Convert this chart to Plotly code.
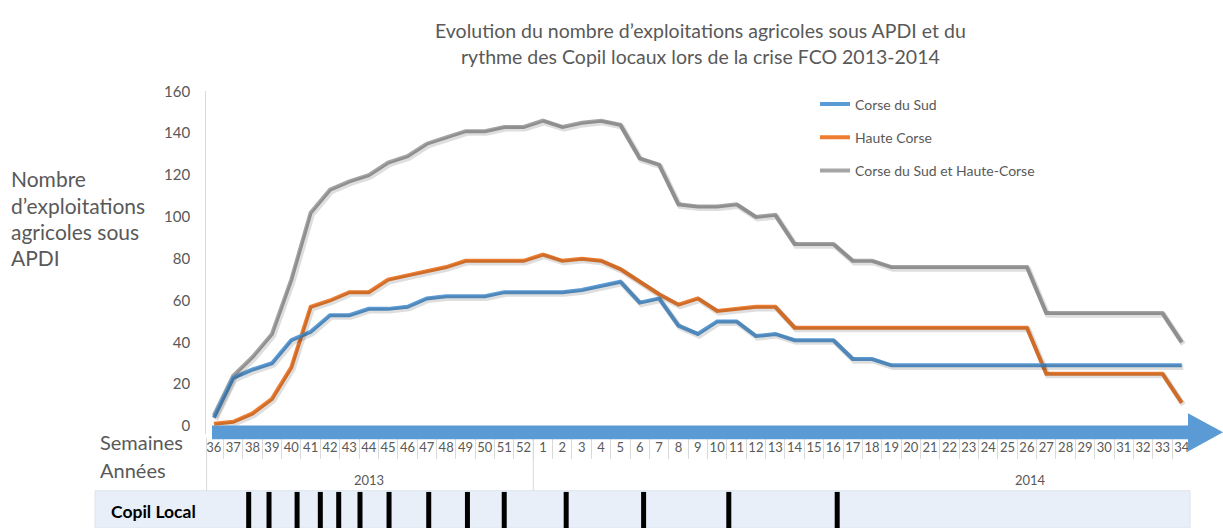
import plotly.graph_objects as go

# --- Données -------------------------------------------------------------
semaines = ["36", "37", "38", "39", "40", "41", "42", "43", "44", "45", "46", "47",
            "48", "49", "50", "51", "52",
            "1", "2", "3", "4", "5", "6", "7", "8", "9", "10", "11", "12", "13", "14",
            "15", "16", "17", "18", "19", "20", "21", "22", "23", "24", "25", "26",
            "27", "28", "29", "30", "31", "32", "33", "34"]

corse_du_sud = [4, 23, 27, 30, 41, 45, 53, 53, 56, 56, 57, 61, 62, 62, 62, 64, 64,
                64, 64, 65, 67, 69, 59, 61, 48, 44, 50, 50, 43, 44, 41, 41, 41, 32, 32,
                29, 29, 29, 29, 29, 29, 29, 29, 29, 29, 29, 29, 29, 29, 29, 29]

haute_corse = [1, 2, 6, 13, 28, 57, 60, 64, 64, 70, 72, 74, 76, 79, 79, 79, 79,
               82, 79, 80, 79, 75, 69, 63, 58, 61, 55, 56, 57, 57, 47, 47, 47, 47, 47,
               47, 47, 47, 47, 47, 47, 47, 47, 25, 25, 25, 25, 25, 25, 25, 11]

deux_corse = [5, 24, 33, 44, 70, 102, 113, 117, 120, 126, 129, 135, 138, 141, 141, 143, 143,
              146, 143, 145, 146, 144, 128, 125, 106, 105, 105, 106, 100, 101, 87, 87, 87, 79, 79,
              76, 76, 76, 76, 76, 76, 76, 76, 54, 54, 54, 54, 54, 54, 54, 40]

# Copil locaux, position le long de l'axe des semaines (0 = semaine 36 de 2013)
copil_local = [1.8, 2.85, 4.3, 5.5, 6.45, 7.55, 9.05, 11.1, 13.1, 15.0, 18.2, 22.2, 26.6, 32.2]

annees = ["2013", "2014"]
annees_pos = [8, 42.2]

y_ticks = [0, 20, 40, 60, 80, 100, 120, 140, 160]

series = [
    ("Corse du Sud", corse_du_sud, "#5B9BD5"),
    ("Haute Corse", haute_corse, "#ED7D31"),
    ("Corse du Sud et Haute-Corse", deux_corse, "#A5A5A5"),
]

# --- Mise en page (en pixels convertis en coordonnées papier) -------------
W, H = 1223, 528


def px(x):
    return x / W


def py(y):
    return 1 - y / H


TXT = "#595959"
FONT = "Lato, 'Open Sans', sans-serif"
idx = list(range(len(semaines)))
x_range = [-0.4, 50.45]
y_range = [-4, 160]
x_dom = [px(206.1), px(1190.5)]
y_dom = [py(432.5), py(83)]

fig = go.Figure()

# ombres portées des courbes
for name, vals, color in series:
    fig.add_trace(go.Scatter(
        x=idx, y=vals, mode="lines", xaxis="x3", yaxis="y3",
        line=dict(color="rgba(0,0,0,0.13)", width=5.5), hoverinfo="skip",
        showlegend=False))

# courbes (ordre de tracé : gris, orange, bleu ; ordre de légende fixé par legendrank)
for rank, (name, vals, color) in reversed(list(enumerate(series))):
    fig.add_trace(go.Scatter(
        x=idx, y=vals, mode="lines", name=name, legendgroup=name, legendrank=rank,
        line=dict(color=color, width=4)))

# barres Copil Local
cx, cy = [], []
for c in copil_local:
    cx += [c, c, None]
    cy += [0, 1, None]
fig.add_trace(go.Scatter(x=cx, y=cy, mode="lines", xaxis="x2", yaxis="y2",
                         line=dict(color="black", width=5), hoverinfo="skip",
                         showlegend=False))

shapes = []
# bandeau "Copil Local"
shapes.append(dict(type="rect", xref="paper", yref="paper", layer="below",
                   x0=px(95), x1=px(1190), y0=0, y1=py(490),
                   fillcolor="#E8EFF8", line=dict(color="#DCE4EF", width=1)))
# séparateurs du tableau des semaines / années
shapes.append(dict(type="line", xref="paper", yref="paper",
                   x0=px(206.6), x1=px(206.6), y0=py(436), y1=py(490),
                   line=dict(color="#D9D9D9", width=1)))
shapes.append(dict(type="line", xref="x", yref="paper",
                   x0=16.5, x1=16.5, y0=py(436), y1=py(490),
                   line=dict(color="#D9D9D9", width=1)))
# flèche de l'axe du temps
ax_pts = [(212, 423.5), (1188, 423.5), (1188, 411), (1223, 430.5),
          (1188, 450), (1188, 437.5), (212, 437.5)]
path = "M" + " L".join(f"{px(a):.5f},{py(b):.5f}" for a, b in ax_pts) + " Z"
shapes.append(dict(type="path", xref="paper", yref="paper", path=path,
                   fillcolor="#5B9BD5", line=dict(width=0), layer="above"))

annotations = []
# titre
for text, yy in [("Evolution du nombre d\u2019exploitations agricoles sous APDI et du", 21),
                 ("rythme des Copil locaux lors de la crise FCO 2013-2014", 47)]:
    annotations.append(dict(text=text, xref="paper", yref="paper", x=px(700), y=py(yy),
                            xanchor="center", yanchor="middle", showarrow=False,
                            font=dict(size=19.5, color=TXT)))
# titre de l'axe vertical
for text, yy in [("Nombre", 172), ("d\u2019exploitations", 199),
                 ("agricoles sous", 226), ("APDI", 252)]:
    annotations.append(dict(text=text, xref="paper", yref="paper", x=px(9), y=py(yy),
                            xanchor="left", yanchor="middle", showarrow=False,
                            font=dict(size=21, color=TXT)))
# libellés des lignes du tableau
for text, yy in [("Semaines", 440), ("Ann\u00e9es", 469)]:
    annotations.append(dict(text=text, xref="paper", yref="paper", x=px(98), y=py(yy),
                            xanchor="left", yanchor="middle", showarrow=False,
                            font=dict(size=20, color=TXT)))
annotations.append(dict(text="<b>Copil Local</b>", xref="paper", yref="paper",
                        x=px(109), y=py(511), xanchor="left", yanchor="middle",
                        showarrow=False, font=dict(size=17.5, color="black")))
# années
for a, p in zip(annees, annees_pos):
    annotations.append(dict(text=a, xref="x", yref="paper", x=p, y=py(479),
                            xanchor="center", yanchor="middle", showarrow=False,
                            font=dict(size=13, color=TXT)))

fig.update_layout(
    width=W, height=H,
    margin=dict(l=0, r=0, t=0, b=0),
    paper_bgcolor="white", plot_bgcolor="rgba(0,0,0,0)",
    font=dict(family=FONT, color=TXT),
    showlegend=True,
    legend=dict(x=px(815), y=py(80), xanchor="left", yanchor="top",
                bgcolor="rgba(0,0,0,0)", font=dict(size=14, color=TXT),
                tracegroupgap=12, traceorder="grouped"),
    xaxis=dict(domain=x_dom, range=x_range, anchor="y",
               tickmode="array", tickvals=idx, ticktext=semaines,
               ticks="", showline=False, showgrid=False, zeroline=False,
               tickfont=dict(size=13, color=TXT), ticklabelstandoff=4,
               minor=dict(tick0=0.5, dtick=1, ticks="outside", ticklen=24,
                          tickcolor="#D9D9D9", tickwidth=1, showgrid=False)),
    yaxis=dict(domain=y_dom, range=y_range, anchor="x",
               tickmode="array", tickvals=y_ticks, ticks="",
               showline=True, linecolor="#D9D9D9", linewidth=1,
               showgrid=False, zeroline=False,
               tickfont=dict(size=15, color=TXT), ticklabelstandoff=12),
    xaxis2=dict(domain=x_dom, range=x_range, anchor="y2", visible=False),
    yaxis2=dict(domain=[0, py(491)], range=[0, 1], anchor="x2", visible=False),
    xaxis3=dict(overlaying="x", range=[x_range[0] - 0.08, x_range[1] - 0.08],
                anchor="y3", visible=False),
    yaxis3=dict(overlaying="y", range=[y_range[0] + 0.9, y_range[1] + 0.9],
                anchor="x3", visible=False),
    shapes=shapes,
    annotations=annotations,
)

fig.write_html("out.html")
